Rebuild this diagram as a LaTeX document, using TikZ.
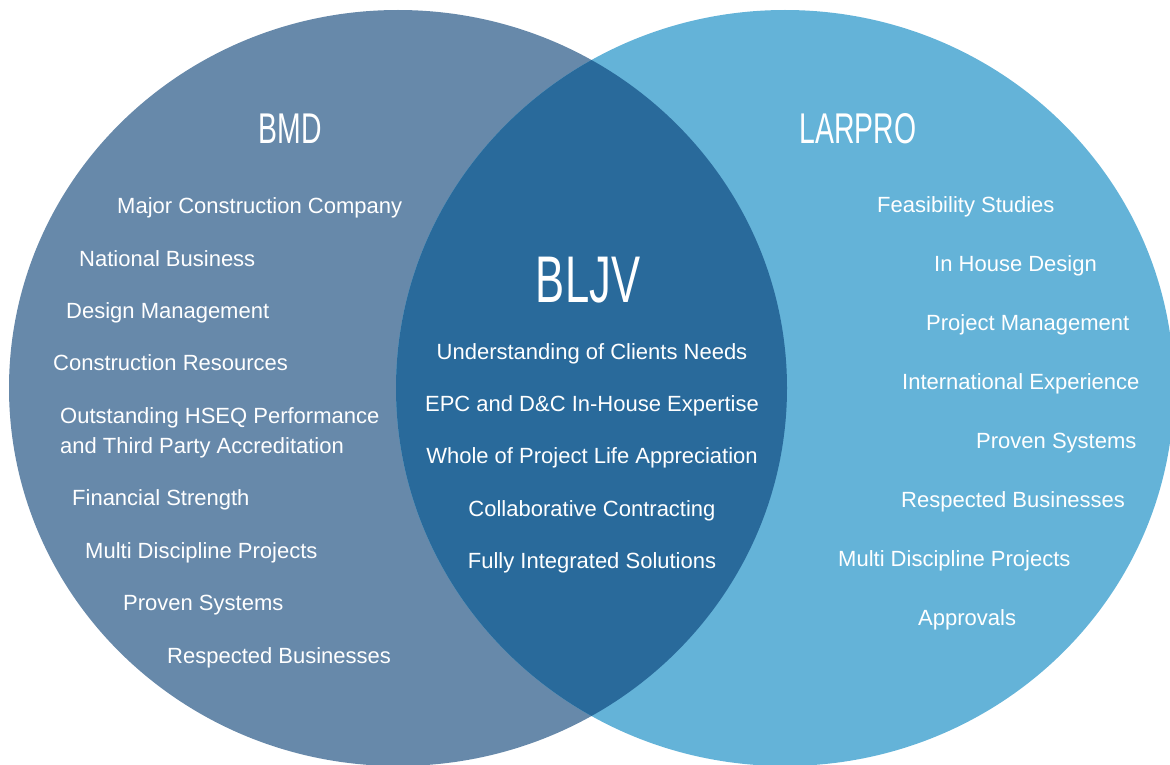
\documentclass[tikz,border=0pt]{standalone}
\usepackage{fontspec}
\setmainfont{Liberation Sans}
\newfontfamily\condfont[FakeStretch=0.66]{Liberation Sans}
\definecolor{bmdcol}{HTML}{6789AA}
\definecolor{larcol}{HTML}{64B3D8}
\definecolor{lenscol}{HTML}{296A9B}
\tikzset{
  item/.style={text=white,inner sep=0pt,font=\fontsize{22}{24}\selectfont},
  ititle/.style={text=white,inner sep=0pt,font=\condfont\fontsize{43}{48}\selectfont},
  btitle/.style={text=white,inner sep=0pt,font=\condfont\fontsize{66}{70}\selectfont}
}
\begin{document}
\begin{tikzpicture}[x=1pt,y=-1pt]
\useasboundingbox (0,0) rectangle (1170,765);
\fill[bmdcol] (398,388) ellipse [x radius=389pt, y radius=378pt];
\fill[larcol] (785,388) ellipse [x radius=389pt, y radius=378pt];
\begin{scope}
\clip (398,388) ellipse [x radius=389pt, y radius=378pt];
\fill[lenscol] (785,388) ellipse [x radius=389pt, y radius=378pt];
\end{scope}
% titles
\node[ititle,anchor=base] (bmd) at (290,143) {BMD};
\node[ititle,anchor=base] (larpro) at (858,143) {LARPRO};
\node[btitle,anchor=base] (bljv) at (588,302) {BLJV};
% left items
\node[item,anchor=base west] (l1) at (117,213) {Major Construction Company};
\node[item,anchor=base west] (l2) at (79,266) {National Business};
\node[item,anchor=base west] (l3) at (66,318) {Design Management};
\node[item,anchor=base west] (l4) at (53,370) {Construction Resources};
\node[item,anchor=base west] (l5) at (60,423) {Outstanding HSEQ Performance};
\node[item,anchor=base west] (l6) at (60,453) {and Third Party Accreditation};
\node[item,anchor=base west] (l7) at (72,505) {Financial Strength};
\node[item,anchor=base west] (l8) at (85,558) {Multi Discipline Projects};
\node[item,anchor=base west] (l9) at (123,610) {Proven Systems};
\node[item,anchor=base west] (l10) at (167,663) {Respected Businesses};
% centre items
\node[item,anchor=base] (c1) at (592,359) {Understanding of Clients Needs};
\node[item,anchor=base] (c2) at (592,411) {EPC and D\&C In-House Expertise};
\node[item,anchor=base] (c3) at (592,463) {Whole of Project Life Appreciation};
\node[item,anchor=base] (c4) at (592,516) {Collaborative Contracting};
\node[item,anchor=base] (c5) at (592,568) {Fully Integrated Solutions};
% right items
\node[item,anchor=base west] (r1) at (877,212) {Feasibility Studies};
\node[item,anchor=base west] (r2) at (934,271) {In House Design};
\node[item,anchor=base west] (r3) at (926,330) {Project Management};
\node[item,anchor=base west] (r4) at (902,389) {International Experience};
\node[item,anchor=base west] (r5) at (976,448) {Proven Systems};
\node[item,anchor=base west] (r6) at (901,507) {Respected Businesses};
\node[item,anchor=base west] (r7) at (838,566) {Multi Discipline Projects};
\node[item,anchor=base west] (r8) at (918,625) {Approvals};
\end{tikzpicture}
\end{document}
